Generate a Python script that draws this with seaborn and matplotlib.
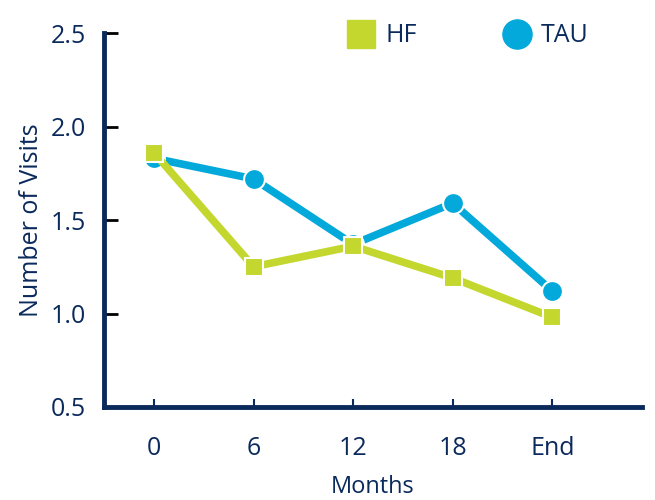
import pandas as pd
import matplotlib.pyplot as plt
import seaborn as sns
from matplotlib.lines import Line2D

# data
months = ["0", "6", "12", "18", "End"]
hf_visits = [1.86, 1.25, 1.36, 1.19, 0.98]
tau_visits = [1.83, 1.72, 1.37, 1.59, 1.12]

navy = "#0B2A5C"
green = "#C3D72F"
blue = "#03A9DA"

df = pd.DataFrame({
    "Months": months * 2,
    "Visits": hf_visits + tau_visits,
    "Group": ["HF"] * len(months) + ["TAU"] * len(months),
})

sns.set_style("white")
plt.rcParams["font.family"] = ["Open Sans", "DejaVu Sans"]

fig = plt.figure(figsize=(6.55, 5), dpi=100)
ax = fig.add_axes([0.159, 0.186, 0.821, 0.748])

# TAU first so the HF squares sit on top
sns.lineplot(data=df[df["Group"] == "TAU"], x="Months", y="Visits", color=blue,
             marker="o", markersize=15, markeredgecolor="white", markeredgewidth=1.5,
             linewidth=5.5, ax=ax, sort=False)
sns.lineplot(data=df[df["Group"] == "HF"], x="Months", y="Visits", color=green,
             marker="s", markersize=13.5, markeredgecolor="white", markeredgewidth=1.5,
             linewidth=5.5, ax=ax, sort=False)

ax.set_xlim(-0.5, 4.9)
ax.set_ylim(0.5, 2.5)
ax.set_yticks([0.5, 1.0, 1.5, 2.0, 2.5])
ax.set_yticklabels(["0.5", "1.0", "1.5", "2.0", "2.5"])

for side in ["top", "right"]:
    ax.spines[side].set_visible(False)
for side in ["left", "bottom"]:
    ax.spines[side].set_color(navy)
    ax.spines[side].set_linewidth(3.5)

ax.tick_params(axis="y", left=True, direction="in", length=10, width=2, color="black",
               labelsize=18, labelcolor=navy, pad=13)
ax.tick_params(axis="x", bottom=True, direction="in", length=6, width=1.5, color=navy,
               labelsize=18, labelcolor=navy, pad=21)

ax.set_xlabel("Months", fontsize=17, color=navy, labelpad=10)
ax.set_ylabel("Number of Visits", fontsize=18, color=navy, labelpad=5)

handles = [
    Line2D([], [], linestyle="none", marker="s", markersize=20, color=green, label="HF"),
    Line2D([], [], linestyle="none", marker="o", markersize=21, color=blue, label="TAU"),
]
leg = fig.legend(handles=handles, loc="center left", bbox_to_anchor=(0.494, 0.928), ncol=2,
                 frameon=False, fontsize=18, handlelength=1.2, handletextpad=0.36,
                 columnspacing=3.4)
for t in leg.get_texts():
    t.set_color(navy)

fig.savefig("out.png", dpi=100)
